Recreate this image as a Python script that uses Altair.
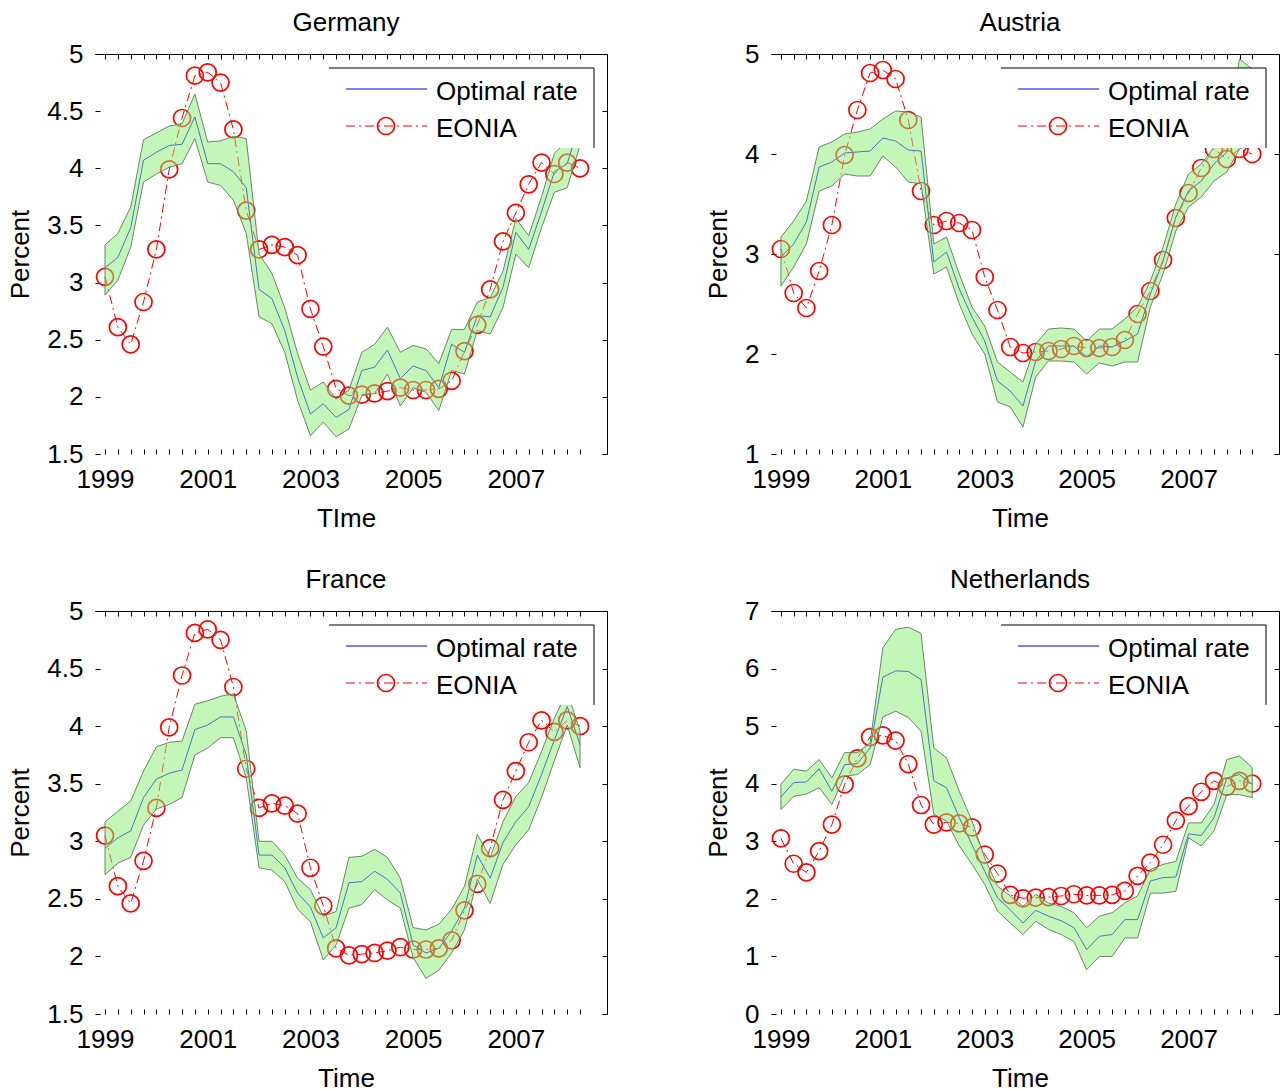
import altair as alt
import pandas as pd
import numpy as np

# quarterly index: 0 = 1999Q1 ... 37 = 2008Q2
quarters = list(range(38))

eonia = [3.05, 2.61, 2.46, 2.83, 3.29, 3.99, 4.44, 4.81, 4.84, 4.75,
         4.34, 3.63, 3.29, 3.33, 3.31, 3.24, 2.77, 2.44, 2.07, 2.01,
         2.02, 2.03, 2.05, 2.08, 2.06, 2.06, 2.07, 2.14, 2.40, 2.63,
         2.94, 3.36, 3.61, 3.86, 4.05, 3.95, 4.05, 4.00]

de_opt = [3.13, 3.22, 3.48, 4.07, 4.14, 4.20, 4.21, 4.45, 4.04, 4.04,
          3.97, 3.83, 2.94, 2.86, 2.58, 2.17, 1.85, 1.94, 1.82, 1.89,
          2.23, 2.26, 2.41, 2.16, 2.27, 2.23, 2.08, 2.46, 2.39, 2.71,
          2.70, 2.96, 3.44, 3.29, 3.62, 3.97, 4.04, 4.40]
de_hi = [3.33, 3.43, 3.66, 4.25, 4.31, 4.37, 4.39, 4.65, 4.23, 4.24,
         4.28, 4.26, 3.25, 3.08, 2.78, 2.38, 2.06, 2.13, 1.98, 2.06,
         2.39, 2.46, 2.61, 2.39, 2.45, 2.42, 2.29, 2.59, 2.59, 2.83,
         2.87, 3.10, 3.56, 3.41, 3.75, 4.13, 4.24, 4.62]
de_lo = [2.89, 3.02, 3.31, 3.88, 3.95, 4.01, 4.04, 4.26, 3.88, 3.85,
         3.72, 3.43, 2.70, 2.64, 2.39, 1.97, 1.66, 1.78, 1.65, 1.72,
         2.01, 2.03, 2.20, 1.92, 2.08, 2.04, 1.88, 2.23, 2.20, 2.58,
         2.55, 2.78, 3.25, 3.13, 3.48, 3.79, 3.83, 4.20]

at_opt = [2.97, 3.10, 3.32, 3.87, 3.92, 4.01, 4.02, 4.03, 4.16, 4.13,
          4.04, 4.03, 2.92, 3.02, 2.65, 2.37, 2.13, 1.73, 1.63, 1.48,
          1.93, 2.08, 2.08, 2.08, 1.97, 2.08, 2.07, 2.13, 2.20, 2.60,
          2.93, 3.37, 3.63, 3.73, 3.90, 4.02, 4.50, 4.45]
at_hi = [3.17, 3.33, 3.53, 4.07, 4.12, 4.20, 4.22, 4.25, 4.35, 4.43,
         4.42, 4.37, 3.10, 3.17, 2.80, 2.47, 2.28, 1.92, 1.82, 1.72,
         2.10, 2.25, 2.26, 2.25, 2.13, 2.25, 2.25, 2.35, 2.47, 2.73,
         3.07, 3.50, 3.80, 3.90, 4.07, 4.22, 4.95, 4.85]
at_lo = [2.68, 2.87, 3.10, 3.63, 3.68, 3.80, 3.78, 3.78, 3.98, 3.87,
         3.72, 3.70, 2.80, 2.87, 2.50, 2.20, 2.00, 1.52, 1.47, 1.27,
         1.77, 1.93, 1.93, 1.92, 1.80, 1.91, 1.88, 1.92, 1.92, 2.47,
         2.80, 3.23, 3.47, 3.57, 3.73, 3.82, 4.05, 4.10]

fr_opt = [2.94, 3.03, 3.09, 3.38, 3.54, 3.59, 3.62, 3.97, 4.01, 4.08,
          4.08, 3.75, 2.88, 2.88, 2.77, 2.55, 2.43, 2.16, 2.25, 2.64,
          2.65, 2.74, 2.67, 2.55, 2.10, 2.03, 2.07, 2.22, 2.42, 2.88,
          2.68, 2.99, 3.17, 3.30, 3.58, 3.88, 4.17, 3.84]
fr_hi = [3.17, 3.26, 3.35, 3.61, 3.82, 3.86, 3.87, 4.19, 4.22, 4.26,
         4.28, 3.96, 3.00, 3.00, 2.88, 2.68, 2.58, 2.35, 2.39, 2.86,
         2.87, 2.93, 2.86, 2.68, 2.25, 2.23, 2.28, 2.41, 2.61, 3.06,
         2.86, 3.17, 3.39, 3.51, 3.78, 4.07, 4.30, 3.96]
fr_lo = [2.71, 2.81, 2.86, 3.14, 3.28, 3.32, 3.38, 3.75, 3.81, 3.90,
         3.90, 3.55, 2.77, 2.75, 2.65, 2.41, 2.30, 1.97, 2.10, 2.42,
         2.45, 2.58, 2.49, 2.42, 1.99, 1.81, 1.88, 2.03, 2.23, 2.67,
         2.46, 2.80, 2.97, 3.10, 3.38, 3.70, 4.01, 3.64]

nl_opt = [3.77, 4.02, 4.03, 4.26, 3.87, 4.33, 4.35, 4.62, 5.85, 5.96,
          5.95, 5.81, 4.05, 3.93, 3.41, 2.94, 2.48, 2.02, 1.81, 1.58,
          1.80, 1.70, 1.62, 1.50, 1.12, 1.35, 1.38, 1.64, 1.64, 2.31,
          2.37, 2.38, 3.13, 3.10, 3.41, 4.10, 4.16, 3.99]
nl_hi = [3.99, 4.25, 4.22, 4.42, 4.10, 4.54, 4.54, 4.71, 6.36, 6.68,
         6.72, 6.61, 4.62, 4.45, 3.87, 3.35, 2.71, 2.22, 2.05, 1.87,
         2.08, 1.93, 1.87, 1.76, 1.50, 1.70, 1.76, 1.93, 2.05, 2.51,
         2.60, 2.65, 3.32, 3.32, 3.64, 4.42, 4.48, 4.28]
nl_lo = [3.55, 3.78, 3.82, 3.93, 3.64, 4.13, 4.16, 4.33, 5.16, 5.26,
         5.15, 4.91, 3.47, 3.35, 2.92, 2.60, 2.25, 1.79, 1.58, 1.38,
         1.61, 1.47, 1.38, 1.26, 0.77, 1.00, 1.00, 1.32, 1.32, 2.10,
         2.10, 2.13, 3.06, 2.92, 3.18, 3.81, 3.81, 3.76]

legend_labels = ["Optimal rate", "EONIA"]

FONT = "Liberation Sans"
FS = 26
BAND_FILL = "#8ced73"
BAND_EDGE = "#5b7b5b"
BLUE = "#0000ff"
RED = "#ff0000"
DASH = [9, 4, 2, 4]
XDOMAIN = [-0.78, 39.1]


def panel(name, xtitle, opt, lo, hi, ymin, ymax, ystep, width, height):
    df = pd.DataFrame({"t": quarters, "opt": opt, "lo": lo, "hi": hi, "eonia": eonia})
    xs = alt.Scale(domain=XDOMAIN, nice=False, zero=False)
    ys = alt.Scale(domain=[ymin, ymax], nice=False, zero=False)
    yvals = [float(v) for v in np.arange(ymin, ymax + 1e-9, ystep)]

    ax_bottom = alt.Axis(orient="bottom", values=quarters,
                         labelExpr="datum.value % 8 == 0 ? '' + (1999 + datum.value / 4) : ''",
                         domain=False, tickSize=5, offset=-5, labelPadding=12,
                         labelOverlap=False, labelFlush=False, title=xtitle, titlePadding=13,
                         titleX=width / 2 - 5)
    ax_left = alt.Axis(orient="left", values=yvals, format="~g", domain=False,
                       tickSize=5, offset=-5, labelPadding=12, labelOverlap=False,
                       labelFlush=False, title="Percent", titlePadding=13)
    ax_top_ticks = alt.Axis(orient="top", values=quarters, labels=False, domain=False,
                            tickSize=5, offset=-5, title=None)
    ax_right_ticks = alt.Axis(orient="right", values=yvals, labels=False, domain=False,
                              tickSize=5, offset=-5, title=None)
    ax_top_dom = alt.Axis(orient="top", labels=False, ticks=False, domain=True,
                          title=None, zindex=1)
    ax_right_dom = alt.Axis(orient="right", labels=False, ticks=False, domain=True,
                            title=None, zindex=1)

    base = alt.Chart(df)
    blue = base.mark_line(color=BLUE, strokeWidth=1, clip=True).encode(
        x=alt.X("t:Q", scale=xs, axis=ax_top_ticks),
        y=alt.Y("opt:Q", scale=ys, axis=ax_right_ticks),
    )
    red_line = base.mark_line(color=RED, strokeWidth=1, strokeDash=DASH, clip=True).encode(
        x=alt.X("t:Q", scale=xs, axis=ax_top_dom),
        y=alt.Y("eonia:Q", scale=ys, axis=ax_right_dom),
    )
    red_pts = base.mark_point(shape="circle", filled=False, size=289, color=RED,
                              strokeWidth=1.7, opacity=1, clip=True).encode(
        x=alt.X("t:Q", scale=xs, axis=None),
        y=alt.Y("eonia:Q", scale=ys, axis=None),
    )
    band = base.mark_area(color=BAND_FILL, fillOpacity=0.5, stroke=BAND_EDGE,
                          strokeWidth=1, strokeOpacity=0.9, clip=True).encode(
        x=alt.X("t:Q", scale=xs, axis=ax_bottom),
        y=alt.Y("lo:Q", scale=ys, axis=ax_left),
        y2="hi:Q",
    )

    # legend box (inside, top right)
    one = alt.Chart(pd.DataFrame({"k": [0]}))
    right = width - 13
    left = right - 265
    top, bottom = 14, 94
    y1, y2 = 35, 72
    box = one.mark_rect(fill="white", stroke=None).encode(
        x=alt.value(left), x2=alt.value(right), y=alt.value(top), y2=alt.value(bottom))
    box_top = one.mark_rule(color="black", strokeWidth=1).encode(
        x=alt.value(left), x2=alt.value(right), y=alt.value(top))
    box_right = one.mark_rule(color="black", strokeWidth=1).encode(
        x=alt.value(right), y=alt.value(top), y2=alt.value(bottom))
    leg_blue = one.mark_rule(color=BLUE, strokeWidth=1).encode(
        x=alt.value(left + 17), x2=alt.value(left + 98), y=alt.value(y1))
    leg_red = one.mark_rule(color=RED, strokeWidth=1, strokeDash=DASH).encode(
        x=alt.value(left + 17), x2=alt.value(left + 98), y=alt.value(y2))
    leg_pt = one.mark_point(shape="circle", filled=False, size=289, color=RED,
                            strokeWidth=1.7, opacity=1).encode(
        x=alt.value(left + 57), y=alt.value(y2))
    leg_t1 = one.mark_text(text=legend_labels[0], align="left", baseline="middle",
                           font=FONT, fontSize=FS, color="black").encode(
        x=alt.value(left + 107), y=alt.value(y1 + 3))
    leg_t2 = one.mark_text(text=legend_labels[1], align="left", baseline="middle",
                           font=FONT, fontSize=FS, color="black").encode(
        x=alt.value(left + 107), y=alt.value(y2 + 3))

    return alt.layer(blue, red_line, red_pts, band, box, box_top, box_right,
                     leg_blue, leg_red, leg_pt, leg_t1, leg_t2).resolve_axis(
        x="independent", y="independent"
    ).properties(
        width=width, height=height,
        title=alt.TitleParams(text=name, font=FONT, fontSize=FS, fontWeight="normal",
                              color="black", offset=5, dx=-5),
    )


de = panel("Germany", "TIme", de_opt, de_lo, de_hi, 1.5, 5, 0.5, 512, 400)
at = panel("Austria", "Time", at_opt, at_lo, at_hi, 1, 5, 1, 508, 400)
fr = panel("France", "Time", fr_opt, fr_lo, fr_hi, 1.5, 5, 0.5, 512, 403)
nl = panel("Netherlands", "Time", nl_opt, nl_lo, nl_hi, 0, 7, 1, 508, 403)

chart = alt.concat(de, at, fr, nl, columns=2, spacing={"row": 157, "column": 164},
                   bounds="flush").configure_view(
    stroke=None
).configure_axis(
    grid=False, labelFont=FONT, labelFontSize=FS, titleFont=FONT, titleFontSize=FS,
    titleFontWeight="normal", labelColor="black", titleColor="black",
    tickColor="black", domainColor="black", tickWidth=1, domainWidth=1,
).properties(
    background="white",
    padding={"left": 7, "top": 10, "right": 0, "bottom": 0},
)

chart.save("out.html", embed_options={"renderer": "svg", "actions": False})
